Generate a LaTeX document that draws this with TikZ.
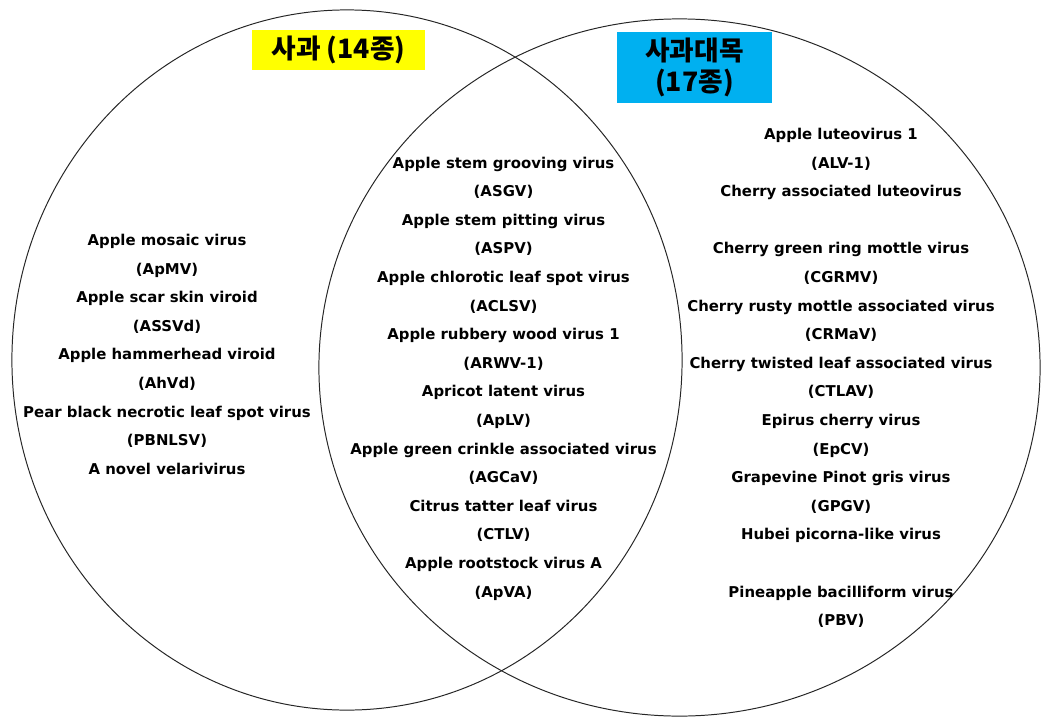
\documentclass[tikz,border=0pt]{standalone}
\usepackage{fontspec}
\setmainfont{DejaVu Sans}
\newfontfamily\korfont{Noto Sans CJK KR}
\definecolor{titleyellow}{RGB}{255,255,0}
\definecolor{titleblue}{RGB}{0,176,240}
\tikzset{
  virus/.style={anchor=base, inner sep=0pt, font=\bfseries\fontsize{10.6}{12}\selectfont},
  setbox/.style={inner sep=0pt, align=center, font=\korfont\bfseries\fontsize{19}{22}\selectfont},
  setline/.style={line width=0.7pt, draw=black!85}
}
\begin{document}
\begin{tikzpicture}[x=0.025cm, y=-0.025cm]
  \useasboundingbox (0,0) rectangle (1041,717);
  % the two sets
  \draw[setline] (347,360) ellipse [x radius=8.375cm, y radius=8.75cm];
  \draw[setline] (679.5,367.5) ellipse [x radius=9.0125cm, y radius=8.7125cm];
  % set titles
  \node[setbox, fill=titleyellow, minimum width=4.325cm, minimum height=1cm] (applebox) at (338.5,50) {사과 (14종)};
  \node[setbox, fill=titleblue, minimum width=3.875cm, minimum height=1.775cm] (stockbox) at (694.5,67.5) {사과대목\\(17종)};
  % apple only
  \foreach \lab [count=\i from 0] in {Apple mosaic virus, (ApMV), Apple scar skin viroid, (ASSVd),
      Apple hammerhead viroid, (AhVd), Pear black necrotic leaf spot virus, (PBNLSV), A novel velarivirus} {
    \node[virus] (apple\i) at (167, 245.5+\i*28.6) {\lab};
  }
  % both
  \foreach \lab [count=\i from 0] in {Apple stem grooving virus, (ASGV), Apple stem pitting virus, (ASPV),
      Apple chlorotic leaf spot virus, (ACLSV), Apple rubbery wood virus 1, (ARWV-1),
      Apricot latent virus, (ApLV), Apple green crinkle associated virus, (AGCaV),
      Citrus tatter leaf virus, (CTLV), Apple rootstock virus A, (ApVA)} {
    \node[virus] (both\i) at (503.5, 168+\i*28.6) {\lab};
  }
  % rootstock only
  \foreach \k/\lab in {0/Apple luteovirus 1, 1/(ALV-1), 2/Cherry associated luteovirus,
      4/Cherry green ring mottle virus, 5/(CGRMV), 6/Cherry rusty mottle associated virus, 7/(CRMaV),
      8/Cherry twisted leaf associated virus, 9/(CTLAV), 10/Epirus cherry virus, 11/(EpCV),
      12/Grapevine Pinot gris virus, 13/(GPGV), 14/Hubei picorna-like virus,
      16/Pineapple bacilliform virus, 17/(PBV)} {
    \node[virus] (stock\k) at (841, 139.5+\k*28.6) {\lab};
  }
\end{tikzpicture}
\end{document}
